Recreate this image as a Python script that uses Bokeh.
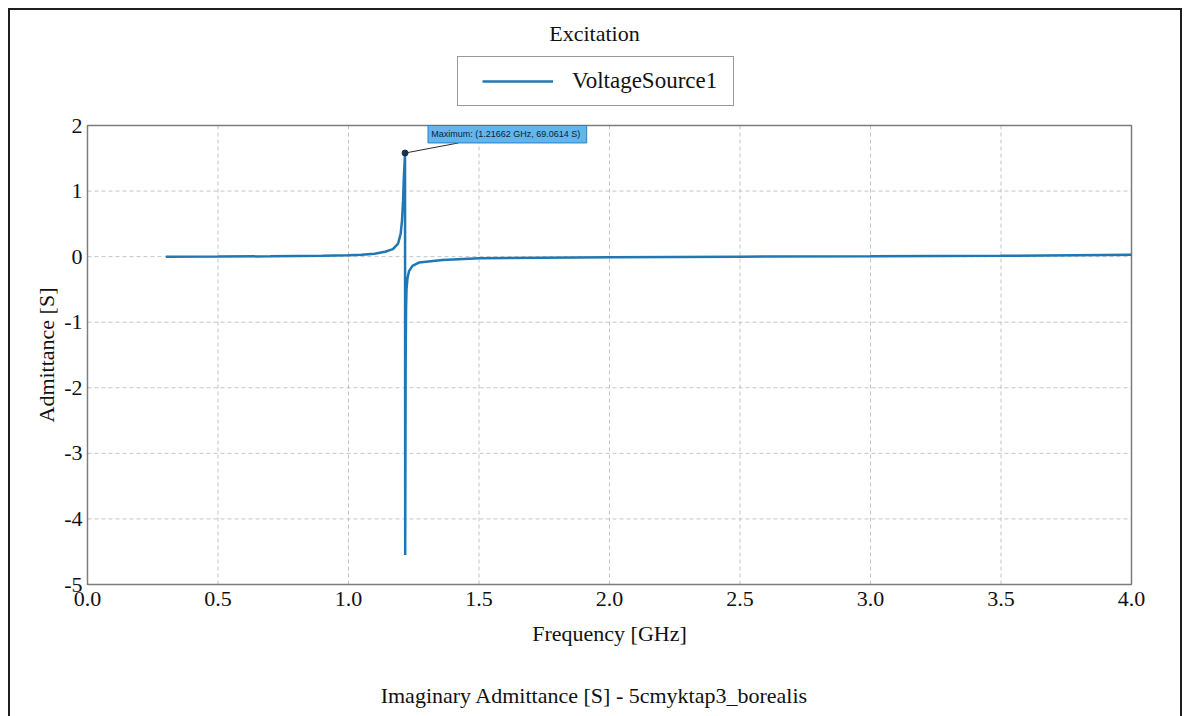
import math

from bokeh.plotting import figure
from bokeh.models import Range1d, Legend, LegendItem, Label, InlineStyleSheet
from bokeh.core.properties import value
from bokeh.embed import file_html
from bokeh.resources import INLINE

# Imaginary part of the port admittance, VoltageSource1
freq_ghz = [0.30, 0.50, 0.70, 0.90, 1.00, 1.05, 1.10, 1.14, 1.17, 1.19, 1.20,
            1.205, 1.209, 1.212, 1.21662, 1.2172, 1.219, 1.2205, 1.2222, 1.226,
            1.232, 1.245, 1.27, 1.36, 1.50, 2.00, 2.50, 3.00, 3.50, 4.00]
imag_admittance_s = [0.000, 0.002, 0.005, 0.012, 0.020, 0.030, 0.045, 0.075, 0.115,
                     0.200, 0.350, 0.550, 0.850, 1.200, 1.580, -4.550, -1.600,
                     -0.800, -0.500, -0.330, -0.220, -0.140, -0.090, -0.050,
                     -0.025, -0.010, 0.000, 0.005, 0.012, 0.030]

x_ticks = [0.0, 0.5, 1.0, 1.5, 2.0, 2.5, 3.0, 3.5, 4.0]
x_tick_labels = [f"{t:.1f}" for t in x_ticks]
y_ticks = [-5, -4, -3, -2, -1, 0, 1, 2]
y_tick_labels = [f"{t:d}" for t in y_ticks]

title_text = "Excitation"
series_name = "VoltageSource1"
x_label = "Frequency [GHz]"
y_label = "Admittance [S]"
caption_text = "Imaginary Admittance [S] - 5cmyktap3_borealis"
marker_text = "Maximum: (1.21662 GHz, 69.0614 S)"

SERIF = "Liberation Serif"
LINE_COLOR = "#1f77b4"
TEXT_COLOR = "#111111"

# page geometry (pixels)
W, H = 1184, 716
AREA_L, AREA_R, AREA_T, AREA_B = 87, 1131, 125, 584   # plotting rectangle
CENTER_X = 594                                        # centre line of the headings
x0, x1 = x_ticks[0], x_ticks[-1]
y0, y1 = y_ticks[0], y_ticks[-1]
px_x = (AREA_R - AREA_L) / (x1 - x0)
px_y = (AREA_B - AREA_T) / (y1 - y0)

# the drawing frame covers the whole page; the data rectangle sits inside it
x_range = Range1d(x0 - AREA_L / px_x, x1 + (W - AREA_R) / px_x)
y_range = Range1d(y0 - (H - AREA_B) / px_y, y1 + AREA_T / px_y)

# outer frame drawn around the whole chart (open at the bottom edge)
frame_css = InlineStyleSheet(css="""
:host::after {
  content: "";
  position: absolute;
  left: 8px; top: 8px;
  width: 1174px; height: 708px;
  box-sizing: border-box;
  border-left: 2.5px solid #1e1e1e;
  border-top: 2.5px solid #1e1e1e;
  border-right: 2.5px solid #1e1e1e;
  pointer-events: none;
  z-index: 10;
}
""")

p = figure(width=W, height=H, output_backend="svg", toolbar_location=None,
           x_range=x_range, y_range=y_range, title=None,
           x_axis_location=None, y_axis_location=None,
           min_border=0, stylesheets=[frame_css])
p.background_fill_color = "white"
p.border_fill_color = "white"
p.outline_line_color = None
p.grid.visible = False

# dashed grid and border of the data rectangle
p.segment(x0=x_ticks, y0=[y0] * len(x_ticks), x1=x_ticks, y1=[y1] * len(x_ticks),
          line_color="#c4c4c4", line_dash="4 3", line_width=1)
p.segment(x0=[x0] * len(y_ticks), y0=y_ticks, x1=[x1] * len(y_ticks), y1=y_ticks,
          line_color="#c4c4c4", line_dash="4 3", line_width=1)
p.quad(left=[x0], right=[x1], top=[y1], bottom=[y0], fill_color=None,
       line_color="#7c7c7c", line_width=1.5)

# tick labels
p.text(x=x_ticks, y=[y0] * len(x_ticks), text=x_tick_labels, y_offset=7,
       text_align="center", text_baseline="top", text_font=value(SERIF),
       text_font_size="22px", text_color=TEXT_COLOR)
p.text(x=[x0] * len(y_ticks), y=y_ticks, text=y_tick_labels, x_offset=-5,
       text_align="right", text_baseline="middle", text_font=value(SERIF),
       text_font_size="22px", text_color=TEXT_COLOR)

# curve
r = p.line(freq_ghz, imag_admittance_s, line_color=LINE_COLOR, line_width=2.5)

# maximum marker with its callout
i_max = max(range(len(imag_admittance_s)), key=lambda i: imag_admittance_s[i])
f_max, y_max = freq_ghz[i_max], imag_admittance_s[i_max]
box_l, box_r = f_max + 0.088, f_max + 0.696
box_t, box_b = y1, y1 - 0.266
p.segment(x0=[f_max], y0=[y_max], x1=[f_max + 0.205], y1=[box_b],
          line_color="#2b2b2b", line_width=1)
p.quad(left=[box_l], right=[box_r], top=[box_t], bottom=[box_b],
       fill_color="#62b6ef", line_color="#2c7fc1", line_width=1)
p.text(x=[box_l + 0.012], y=[(box_t + box_b) / 2], text=[marker_text],
       text_font_size="9px", text_baseline="middle", text_align="left",
       text_color="#0d2233", text_font=value("Liberation Sans"))
p.scatter([f_max], [y_max], size=6, fill_color="#17324f", line_color="#17324f")

# headings (screen units are measured from the frame's lower left corner)
def heading(text, cx, cy, angle=0.0):
    return Label(x=cx, y=H - cy, x_units="screen", y_units="screen",
                 text=text, text_align="center", text_baseline="middle",
                 angle=angle, angle_units="rad",
                 text_font=SERIF, text_font_size="22px", text_color=TEXT_COLOR)

p.add_layout(heading(title_text, CENTER_X, 33))
p.add_layout(heading(x_label, (AREA_L + AREA_R) / 2, 633))
p.add_layout(heading(y_label, 46, (AREA_T + AREA_B) / 2, angle=math.pi / 2))
p.add_layout(heading(caption_text, CENTER_X, 695))

# legend: sample line (a one-point stroke, so nothing shows in the plot)
# whose dash pattern starts a little inside the legend slot
legend_line = p.line(x=freq_ghz[:1], y=imag_admittance_s[:1], line_color=LINE_COLOR,
                     line_width=2.5, line_cap="butt",
                     line_dash="71 300", line_dash_offset=358)
LEG_L, LEG_T, LEG_H = 457, 57, 49
legend = Legend(items=[LegendItem(label=series_name, renderers=[legend_line])],
                location=(LEG_L, H - LEG_T - LEG_H), orientation="vertical",
                glyph_width=84, glyph_height=22, label_standoff=19,
                label_width=150, label_height=24,
                label_text_font=SERIF, label_text_font_size="23px",
                label_text_color=TEXT_COLOR,
                padding=11, margin=0, spacing=0,
                border_line_color="#333333", border_line_width=1,
                background_fill_color="white", background_fill_alpha=1.0)
p.add_layout(legend, "center")

open("out.html", "w").write(file_html(p, INLINE))
